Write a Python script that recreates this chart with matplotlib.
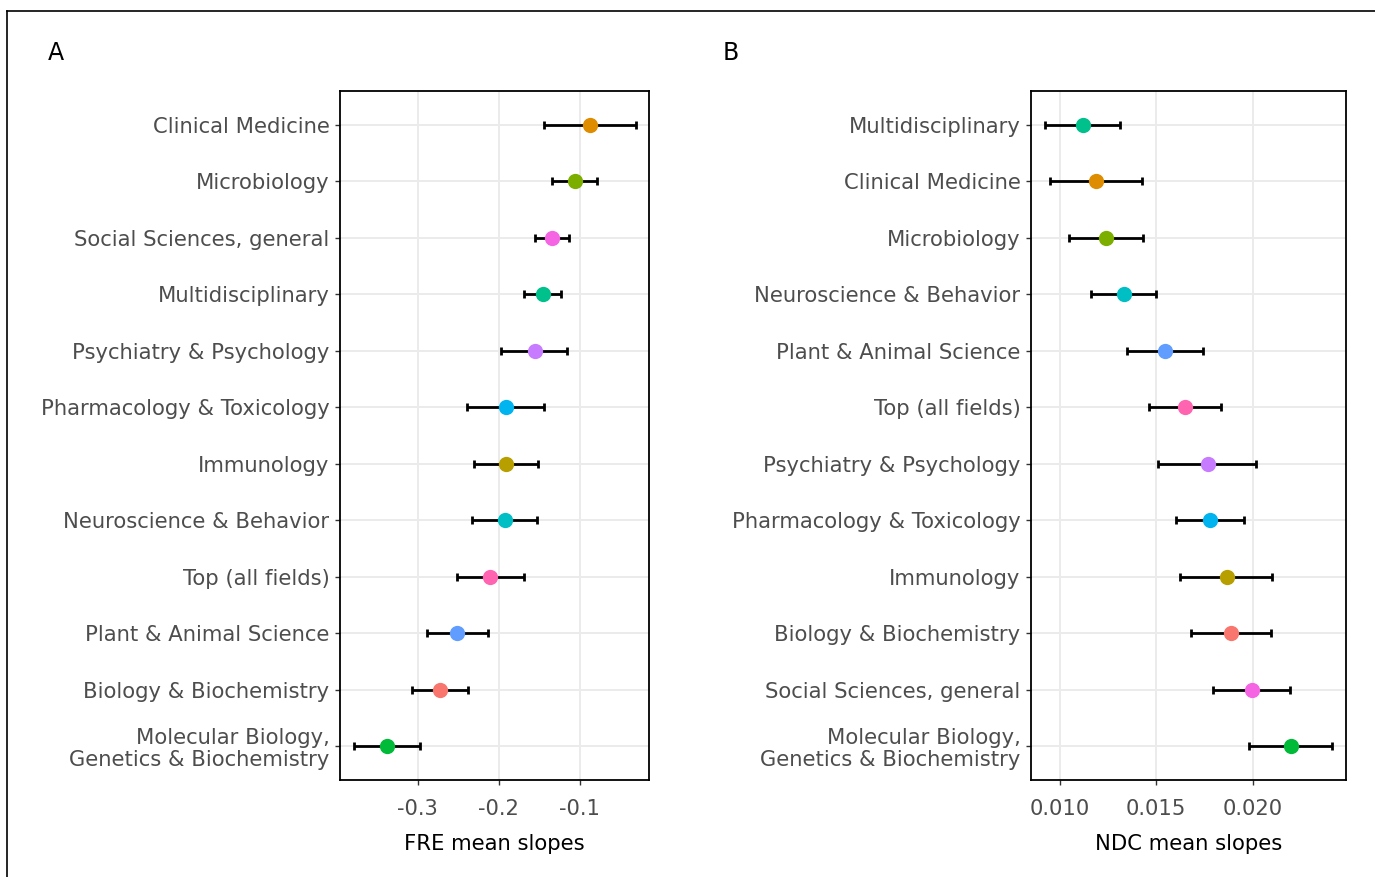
import matplotlib
matplotlib.use("Agg")
import matplotlib.pyplot as plt
import matplotlib.transforms as mtransforms
from matplotlib.lines import Line2D

# ---- Data ----
fields_colors = {
    "Biology & Biochemistry": "#F8766D",
    "Clinical Medicine": "#DE8C00",
    "Immunology": "#B79F00",
    "Microbiology": "#7CAE00",
    "Molecular Biology,\nGenetics & Biochemistry": "#00BA38",
    "Multidisciplinary": "#00C08B",
    "Neuroscience & Behavior": "#00BFC4",
    "Pharmacology & Toxicology": "#00B4F0",
    "Plant & Animal Science": "#619CFF",
    "Psychiatry & Psychology": "#C77CFF",
    "Social Sciences, general": "#F564E3",
    "Top (all fields)": "#FF64B0",
}

# Panel A (top to bottom)
fre_fields = ["Clinical Medicine", "Microbiology", "Social Sciences, general",
              "Multidisciplinary", "Psychiatry & Psychology", "Pharmacology & Toxicology",
              "Immunology", "Neuroscience & Behavior", "Top (all fields)",
              "Plant & Animal Science", "Biology & Biochemistry",
              "Molecular Biology,\nGenetics & Biochemistry"]
fre_mean = [-0.087, -0.106, -0.134, -0.145, -0.156, -0.191,
            -0.191, -0.193, -0.211, -0.252, -0.273, -0.338]
fre_low = [-0.144, -0.134, -0.155, -0.169, -0.197, -0.239,
           -0.231, -0.233, -0.252, -0.289, -0.307, -0.379]
fre_high = [-0.031, -0.079, -0.114, -0.123, -0.116, -0.144,
            -0.152, -0.153, -0.169, -0.214, -0.238, -0.297]

# Panel B (top to bottom)
ndc_fields = ["Multidisciplinary", "Clinical Medicine", "Microbiology",
              "Neuroscience & Behavior", "Plant & Animal Science", "Top (all fields)",
              "Psychiatry & Psychology", "Pharmacology & Toxicology", "Immunology",
              "Biology & Biochemistry", "Social Sciences, general",
              "Molecular Biology,\nGenetics & Biochemistry"]
ndc_mean = [0.01121, 0.01188, 0.01240, 0.01332, 0.01545, 0.01649,
            0.01768, 0.01780, 0.01865, 0.01887, 0.01996, 0.02197]
ndc_low = [0.00927, 0.00952, 0.01047, 0.01162, 0.01349, 0.01462,
           0.01510, 0.01605, 0.01626, 0.01683, 0.01796, 0.01982]
ndc_high = [0.01315, 0.01429, 0.01434, 0.01500, 0.01742, 0.01836,
            0.02019, 0.01953, 0.02102, 0.02095, 0.02195, 0.02410]

fre_ticks = [-0.3, -0.2, -0.1]
fre_ticklabels = ["-0.3", "-0.2", "-0.1"]
ndc_ticks = [0.010, 0.015, 0.020]
ndc_ticklabels = ["0.010", "0.015", "0.020"]

W, H = 1375, 877
fig = plt.figure(figsize=(W / 100, H / 100), dpi=100)
fig.patch.set_facecolor("white")

def fx(px):
    return px / W

def fy(py):
    return 1 - py / H

FS = 15.2
top_px, bot_px = 91, 780
axA = fig.add_axes([fx(340), fy(bot_px), fx(649) - fx(340), fy(top_px) - fy(bot_px)])
axB = fig.add_axes([fx(1031), fy(bot_px), fx(1346) - fx(1031), fy(top_px) - fy(bot_px)])

def draw(ax, fields, mean, low, high, ticks, ticklabels, xlim, xlabel):
    n = len(fields)
    ys = [n - i for i in range(n)]
    ax.set_facecolor("white")
    ax.set_axisbelow(True)
    for y in ys:
        ax.axhline(y, color="#EBEBEB", lw=1.4, zorder=0)
    for t in ticks:
        ax.axvline(t, color="#EBEBEB", lw=1.4, zorder=0)
    for y, f, m, lo, hi in zip(ys, fields, mean, low, high):
        ax.errorbar([m], [y], xerr=[[m - lo], [hi - m]], fmt="none",
                    ecolor="black", elinewidth=2.0, capsize=3, capthick=2.0, zorder=2)
        ax.plot([m], [y], "o", color=fields_colors[f], markersize=11,
                markeredgewidth=0, zorder=3)
    ax.set_ylim(0.4, n + 0.6)
    ax.set_xlim(*xlim)
    ax.set_yticks(ys)
    labels = ax.set_yticklabels(fields)
    offset = mtransforms.ScaledTranslation(0, 5 / 100, fig.dpi_scale_trans)
    for lab in labels:
        lab.set_linespacing(1.12)
        if "\n" in lab.get_text():
            lab.set_transform(lab.get_transform() + offset)
    ax.set_xticks(ticks)
    ax.set_xticklabels(ticklabels)
    ax.tick_params(axis="both", colors="#333333", labelcolor="#4D4D4D",
                   labelsize=FS, length=3.5, width=1.0)
    ax.tick_params(axis="y", pad=4)
    ax.tick_params(axis="x", pad=10)
    for s in ax.spines.values():
        s.set_color("black")
        s.set_linewidth(1.3)
    ax.set_xlabel(xlabel, fontsize=FS, color="black", labelpad=11)

draw(axA, fre_fields, fre_mean, fre_low, fre_high, fre_ticks, fre_ticklabels,
     (-0.396, -0.0148), "FRE mean slopes")
draw(axB, ndc_fields, ndc_mean, ndc_low, ndc_high, ndc_ticks, ndc_ticklabels,
     (0.00852, 0.02484), "NDC mean slopes")

fig.text(fx(56), fy(53), "A", fontsize=17, ha="center", va="center", color="black")
fig.text(fx(731), fy(53), "B", fontsize=17, ha="center", va="center", color="black")

# outer frame lines (top and left)
fig.add_artist(Line2D([fx(7), 1.0], [fy(11), fy(11)], color="black", lw=1.2,
                      transform=fig.transFigure))
fig.add_artist(Line2D([fx(7), fx(7)], [fy(11), 0.0], color="black", lw=1.2,
                      transform=fig.transFigure))

fig.savefig("out.png", dpi=100, facecolor="white")
